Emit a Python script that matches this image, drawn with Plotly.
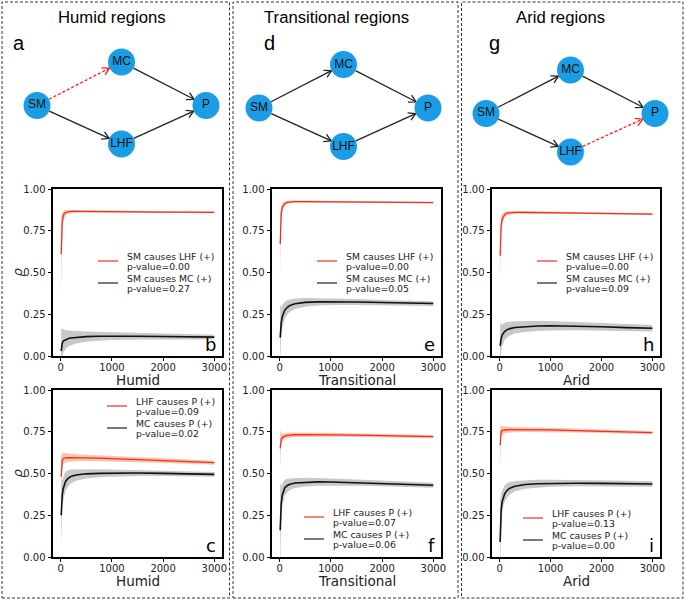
import math
import plotly.graph_objects as go

W, H = 685, 600

# ---------------- data ----------------
lib_size = [10, 20, 30, 50, 75, 100, 150, 200, 300, 500, 750, 1000, 1500, 2000, 2500, 3000]

# Humid
humid_sm_lhf = [0.61, 0.74, 0.80, 0.84, 0.855, 0.86, 0.865, 0.866, 0.866, 0.866, 0.865, 0.864, 0.863, 0.862, 0.861, 0.860]
humid_sm_lhf_sd = [0.27, 0.10, 0.06, 0.03, 0.02, 0.015, 0.012, 0.010, 0.008, 0.007, 0.006, 0.006, 0.005, 0.005, 0.005, 0.005]
humid_sm_mc = [0.03, 0.06, 0.075, 0.09, 0.095, 0.10, 0.105, 0.108, 0.112, 0.116, 0.118, 0.119, 0.118, 0.117, 0.115, 0.113]
humid_sm_mc_sd = [0.14, 0.10, 0.085, 0.07, 0.06, 0.055, 0.048, 0.043, 0.037, 0.030, 0.026, 0.023, 0.019, 0.017, 0.015, 0.014]
humid_lhf_p = [0.48, 0.56, 0.58, 0.59, 0.593, 0.594, 0.595, 0.595, 0.595, 0.594, 0.592, 0.589, 0.583, 0.577, 0.571, 0.565]
humid_lhf_p_sd = [0.14, 0.05, 0.04, 0.035, 0.03, 0.028, 0.025, 0.023, 0.021, 0.019, 0.018, 0.017, 0.015, 0.014, 0.013, 0.012]
humid_mc_p = [0.25, 0.33, 0.37, 0.41, 0.44, 0.455, 0.472, 0.482, 0.491, 0.498, 0.501, 0.502, 0.503, 0.501, 0.498, 0.495]
humid_mc_p_sd = [0.19, 0.12, 0.09, 0.07, 0.06, 0.055, 0.048, 0.042, 0.035, 0.028, 0.024, 0.021, 0.018, 0.016, 0.015, 0.014]

# Transitional
trans_sm_lhf = [0.67, 0.80, 0.85, 0.89, 0.905, 0.913, 0.92, 0.923, 0.925, 0.925, 0.924, 0.923, 0.922, 0.921, 0.920, 0.919]
trans_sm_lhf_sd = [0.19, 0.07, 0.045, 0.025, 0.017, 0.013, 0.010, 0.008, 0.007, 0.006, 0.005, 0.005, 0.005, 0.004, 0.004, 0.004]
trans_sm_mc = [0.11, 0.17, 0.20, 0.235, 0.26, 0.275, 0.292, 0.302, 0.313, 0.321, 0.324, 0.325, 0.323, 0.320, 0.317, 0.314]
trans_sm_mc_sd = [0.20, 0.12, 0.09, 0.07, 0.055, 0.05, 0.042, 0.037, 0.031, 0.026, 0.022, 0.020, 0.018, 0.016, 0.015, 0.014]
trans_lhf_p = [0.65, 0.69, 0.705, 0.715, 0.72, 0.724, 0.728, 0.73, 0.732, 0.733, 0.733, 0.732, 0.730, 0.727, 0.724, 0.721]
trans_lhf_p_sd = [0.115, 0.05, 0.035, 0.025, 0.02, 0.018, 0.016, 0.015, 0.014, 0.013, 0.012, 0.012, 0.011, 0.011, 0.010, 0.010]
trans_mc_p = [0.16, 0.27, 0.32, 0.37, 0.40, 0.415, 0.428, 0.436, 0.443, 0.448, 0.450, 0.449, 0.445, 0.440, 0.435, 0.430]
trans_mc_p_sd = [0.30, 0.15, 0.10, 0.07, 0.055, 0.047, 0.04, 0.035, 0.03, 0.026, 0.023, 0.021, 0.019, 0.017, 0.016, 0.015]

# Arid
arid_sm_lhf = [0.60, 0.72, 0.78, 0.82, 0.84, 0.848, 0.855, 0.858, 0.86, 0.86, 0.859, 0.858, 0.856, 0.854, 0.852, 0.850]
arid_sm_lhf_sd = [0.15, 0.07, 0.045, 0.03, 0.02, 0.016, 0.013, 0.011, 0.009, 0.008, 0.007, 0.007, 0.006, 0.006, 0.006, 0.006]
arid_sm_mc = [0.06, 0.09, 0.105, 0.125, 0.14, 0.148, 0.158, 0.164, 0.171, 0.177, 0.180, 0.181, 0.179, 0.175, 0.170, 0.166]
arid_sm_mc_sd = [0.15, 0.10, 0.08, 0.065, 0.055, 0.05, 0.045, 0.041, 0.037, 0.033, 0.030, 0.028, 0.025, 0.023, 0.021, 0.020]
arid_lhf_p = [0.67, 0.73, 0.75, 0.758, 0.76, 0.761, 0.762, 0.763, 0.763, 0.763, 0.762, 0.761, 0.757, 0.753, 0.749, 0.745]
arid_lhf_p_sd = [0.135, 0.05, 0.035, 0.025, 0.022, 0.02, 0.018, 0.017, 0.016, 0.015, 0.014, 0.013, 0.012, 0.011, 0.010, 0.010]
arid_mc_p = [0.09, 0.22, 0.28, 0.33, 0.365, 0.38, 0.40, 0.412, 0.424, 0.434, 0.439, 0.441, 0.442, 0.441, 0.439, 0.437]
arid_mc_p_sd = [0.25, 0.15, 0.10, 0.07, 0.055, 0.05, 0.042, 0.037, 0.031, 0.026, 0.023, 0.021, 0.019, 0.018, 0.017, 0.016]

regions = ["Humid", "Transitional", "Arid"]
region_titles = ["Humid regions", "Transitional regions", "Arid regions"]
row_labels = [["SM causes LHF (+)", "SM causes MC (+)"],
              ["LHF causes P (+)", "MC causes P (+)"]]
pvalues = [[["0.00", "0.27"], ["0.00", "0.05"], ["0.00", "0.09"]],
           [["0.09", "0.02"], ["0.07", "0.06"], ["0.13", "0.00"]]]
letters_top = ["a", "d", "g"]
letters_plot = [["b", "e", "h"], ["c", "f", "i"]]
y_label = "<i>ρ</i>"
y_ticks = [0.0, 0.25, 0.5, 0.75, 1.0]
x_ticks = [0, 1000, 2000, 3000]

series = [  # [row][col] -> (red mean, red sd, black mean, black sd)
    [(humid_sm_lhf, humid_sm_lhf_sd, humid_sm_mc, humid_sm_mc_sd),
     (trans_sm_lhf, trans_sm_lhf_sd, trans_sm_mc, trans_sm_mc_sd),
     (arid_sm_lhf, arid_sm_lhf_sd, arid_sm_mc, arid_sm_mc_sd)],
    [(humid_lhf_p, humid_lhf_p_sd, humid_mc_p, humid_mc_p_sd),
     (trans_lhf_p, trans_lhf_p_sd, trans_mc_p, trans_mc_p_sd),
     (arid_lhf_p, arid_lhf_p_sd, arid_mc_p, arid_mc_p_sd)],
]

nodes = ["SM", "MC", "LHF", "P"]
node_pos = {"SM": (0, -0.06), "MC": (1, 1), "LHF": (1, -1), "P": (2, -0.06)}
edges = [("SM", "MC"), ("SM", "LHF"), ("MC", "P"), ("LHF", "P")]
weak_edge = [("SM", "MC"), None, ("LHF", "P")]

# ---------------- layout constants (px) ----------------
cols_x = [(53, 222), (272, 441), (492, 660)]
rows_y = [(189, 356), (390, 557)]
diag_anchor = [(37, 103), (259, 105.5), (486, 111)]
UX, UY = 84.5, 41.0
NODE_R = 13.5
title_x = [112, 336, 560]
letter_x = [11, 262, 487]
leg_pos = [[(98, 256), (317, 256), (537, 256)],
           [(107, 401), (304, 512), (523, 513)]]

RED = "#ef2f22"
RED_BAND = "#fbc5ad"
GREY_BAND = "#c8c8c8"
BLUE = "#1a9de4"
SANS = "DejaVu Sans"
ARIAL = "Liberation Sans"


def fx(p):
    return p / W


def fy(p):
    return 1 - p / H


fig = go.Figure()
layout = {}
annotations = []
shapes = []

# ---------------- CCM plots ----------------
for r in range(2):
    for c in range(3):
        k = r * 3 + c + 1
        aid = "" if k == 1 else str(k)
        xa, ya = "x" + aid, "y" + aid
        red_m, red_s, blk_m, blk_s = series[r][c]
        for m, s, lc, bc, lw in [(red_m, red_s, RED, RED_BAND, 1.3),
                                 (blk_m, blk_s, "#111111", GREY_BAND, 1.6)]:
            lo = [a - b for a, b in zip(m, s)]
            hi = [a + b for a, b in zip(m, s)]
            fig.add_trace(go.Scatter(x=lib_size, y=lo, mode="lines", line=dict(width=0, color=bc),
                                     xaxis=xa, yaxis=ya, showlegend=False, hoverinfo="skip"))
            fig.add_trace(go.Scatter(x=lib_size, y=hi, mode="lines", line=dict(width=0, color=bc),
                                     fill="tonexty", fillcolor=bc,
                                     xaxis=xa, yaxis=ya, showlegend=False, hoverinfo="skip"))
            fig.add_trace(go.Scatter(x=lib_size, y=m, mode="lines", line=dict(width=lw, color=lc),
                                     xaxis=xa, yaxis=ya, showlegend=False))
        x0, x1 = cols_x[c]
        y0, y1 = rows_y[r]
        axstyle = dict(showline=True, mirror=True, linecolor="black", linewidth=1.8,
                       ticks="outside", ticklen=3.5, tickwidth=1, tickcolor="black",
                       showgrid=False, zeroline=False, automargin=False,
                       tickfont=dict(family=SANS, size=10, color="#222222"))
        layout["xaxis" + aid] = dict(domain=[fx(x0), fx(x1)], range=[-150, 3150],
                                     tickvals=x_ticks, anchor=ya, ticklabelstandoff=-2, **axstyle)
        layout["yaxis" + aid] = dict(domain=[fy(y1), fy(y0)], range=[0, 1],
                                     tickvals=y_ticks, tickformat=".2f", anchor=xa, **axstyle)
        # axis labels
        annotations.append(dict(text=regions[c], xref="paper", yref="paper",
                                x=fx((x0 + x1) / 2), y=fy(y1 + 24), xanchor="center", yanchor="middle",
                                showarrow=False, font=dict(family=SANS, size=13.5, color="#222222")))
        if c == 0:
            annotations.append(dict(text=y_label, xref="paper", yref="paper", textangle=-90,
                                    x=fx(17), y=fy((y0 + y1) / 2), xanchor="center", yanchor="middle",
                                    showarrow=False, font=dict(family=SANS, size=13, color="#222222")))
        # legend (drawn manually)
        sx, ly = leg_pos[r][c]
        for j, (col, dy) in enumerate([(RED, 0), ("#222222", 22)]):
            sy = ly + dy + 5
            shapes.append(dict(type="line", xref="paper", yref="paper",
                               x0=fx(sx), x1=fx(sx + 20), y0=fy(sy), y1=fy(sy),
                               line=dict(color=col, width=1.2)))
            for t, txt in enumerate([row_labels[r][j], "p-value=" + pvalues[r][c][j]]):
                annotations.append(dict(text=txt, xref="paper", yref="paper",
                                        x=fx(sx + 26.5), y=fy(ly + dy + t * 10),
                                        xanchor="left", yanchor="middle", showarrow=False,
                                        font=dict(family=SANS, size=9.3, color="#222222")))
        # panel letter
        annotations.append(dict(text=letters_plot[r][c], xref="paper", yref="paper",
                                x=fx(x1 - 4), y=fy(y1 - 5 - 6.2), xanchor="right", yanchor="middle",
                                showarrow=False, font=dict(family=SANS, size=18, color="black")))

# ---------------- causal diagrams ----------------
for c in range(3):
    k = 7 + c
    aid = str(k)
    xa, ya = "x" + aid, "y" + aid
    axn, ayn = diag_anchor[c]
    xr, yr = (-0.3, 2.3), (-1.5, 1.5)
    layout["xaxis" + aid] = dict(domain=[fx(axn + xr[0] * UX), fx(axn + xr[1] * UX)], range=list(xr),
                                 visible=False, anchor=ya, fixedrange=True, automargin=False)
    layout["yaxis" + aid] = dict(domain=[fy(ayn - yr[0] * UY), fy(ayn - yr[1] * UY)], range=list(yr),
                                 visible=False, anchor=xa, fixedrange=True, automargin=False)
    for (a, b) in edges:
        weak = weak_edge[c] == (a, b)
        col = "#ff1a1a" if weak else "#222222"
        (ax_, ay_), (bx_, by_) = node_pos[a], node_pos[b]
        dxp, dyp = (bx_ - ax_) * UX, (by_ - ay_) * UY
        ln = math.hypot(dxp, dyp)
        ux, uy = dxp / ln, dyp / ln
        nx, ny = -uy, ux
        sxp, syp = ux * NODE_R, uy * NODE_R
        tx, ty = dxp - ux * NODE_R, dyp - uy * NODE_R
        h, w = 7.0, 4.0
        w1 = (tx - ux * h + nx * w, ty - uy * h + ny * w)
        w2 = (tx - ux * h - nx * w, ty - uy * h - ny * w)

        def to_u(p):
            return ax_ + p[0] / UX, ay_ + p[1] / UY
        s_u, t_u, w1_u, w2_u = to_u((sxp, syp)), to_u((tx, ty)), to_u(w1), to_u(w2)
        fig.add_trace(go.Scatter(x=[s_u[0], t_u[0]], y=[s_u[1], t_u[1]], mode="lines",
                                 line=dict(color=col, width=1.3, dash="3px,2px" if weak else "solid"),
                                 xaxis=xa, yaxis=ya, showlegend=False, hoverinfo="skip"))
        fig.add_trace(go.Scatter(x=[w1_u[0], t_u[0], w2_u[0]], y=[w1_u[1], t_u[1], w2_u[1]], mode="lines",
                                 line=dict(color=col, width=1.3),
                                 xaxis=xa, yaxis=ya, showlegend=False, hoverinfo="skip"))
    fig.add_trace(go.Scatter(x=[node_pos[n][0] for n in nodes], y=[node_pos[n][1] for n in nodes],
                             mode="markers+text", text=nodes, textposition="middle center",
                             marker=dict(size=2 * NODE_R, color=BLUE, line=dict(width=0)),
                             textfont=dict(family=ARIAL, size=12, color="#111111"),
                             xaxis=xa, yaxis=ya, showlegend=False, hoverinfo="skip"))
    annotations.append(dict(text=region_titles[c], xref="paper", yref="paper",
                            x=fx(title_x[c]), y=fy(23 - 0.35 * 16.7), xanchor="center", yanchor="middle",
                            showarrow=False, font=dict(family=ARIAL, size=16.7, color="black")))
    annotations.append(dict(text=letters_top[c], xref="paper", yref="paper",
                            x=fx(letter_x[c]), y=fy(50 - 7), xanchor="left", yanchor="middle",
                            showarrow=False, font=dict(family=ARIAL, size=20, color="black")))

# ---------------- dashed panel boxes ----------------
for (x0, x1) in [(2, 229.5), (233, 458), (461.5, 683)]:
    shapes.append(dict(type="rect", xref="paper", yref="paper",
                       x0=fx(x0), x1=fx(x1), y0=fy(598), y1=fy(2),
                       line=dict(color="#333333", width=1, dash="3px,2px")))

fig.update_layout(template="none", width=W, height=H,
                  margin=dict(l=0, r=0, t=0, b=0, pad=0, autoexpand=False),
                  paper_bgcolor="white", plot_bgcolor="white",
                  annotations=annotations, shapes=shapes, showlegend=False, **layout)

page_fix = (
    "document.documentElement.style.margin='0';document.documentElement.style.padding='0';"
    "document.documentElement.style.overflow='hidden';"
    "document.body.style.margin='0';document.body.style.padding='0';document.body.style.overflow='hidden';"
    "var gd=document.getElementsByClassName('plotly-graph-div')[0];"
    "gd.style.position='absolute';gd.style.left='0px';gd.style.top='0px';"
    "window.scrollTo(0,0);"
)
fig.write_html("out.html", config={"displayModeBar": False}, post_script=page_fix)
